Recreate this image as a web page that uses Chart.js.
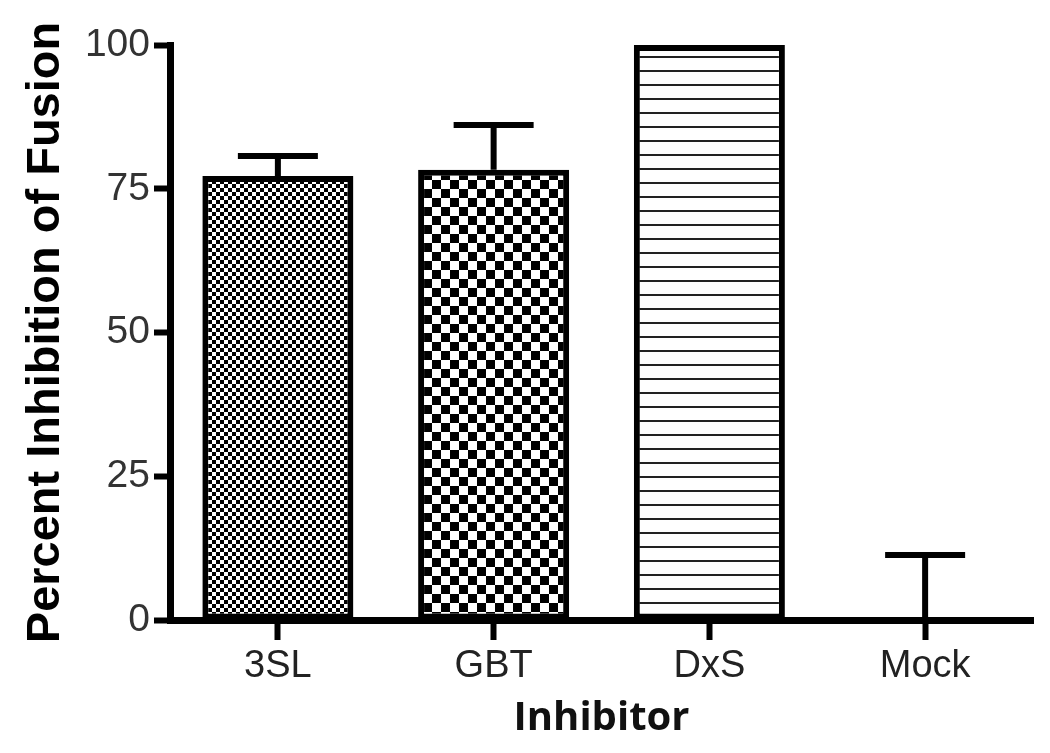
<!DOCTYPE html>
<html>
<head>
<meta charset="utf-8">
<script src="https://cdn.jsdelivr.net/npm/chart.js@4"></script>
<style>
  html, body { margin: 0; padding: 0; background: #fff; }
  #wrap { width: 1050px; height: 753px; }
</style>
</head>
<body>
<div id="wrap"><canvas id="chart" width="1050" height="753"></canvas></div>
<script>
// Percent inhibition of fusion by inhibitor
const categories = ['3SL', 'GBT', 'DxS', 'Mock'];
const means = [77.2, 78.3, 100, 0];
const errors = [3.5, 7.8, 0, 11.3];
const yTicks = [0, 25, 50, 75, 100];

// fill patterns
function checker(size) {
  const c = document.createElement('canvas');
  c.width = size * 2; c.height = size * 2;
  const g = c.getContext('2d');
  g.fillStyle = '#fff';
  g.fillRect(0, 0, c.width, c.height);
  g.fillStyle = '#000';
  g.fillRect(0, 0, size, size);
  g.fillRect(size, size, size, size);
  return g.createPattern(c, 'repeat');
}
function hlines(gap, w) {
  const c = document.createElement('canvas');
  c.width = 4; c.height = gap;
  const g = c.getContext('2d');
  g.fillStyle = '#fff';
  g.fillRect(0, 0, c.width, c.height);
  g.fillStyle = '#222';
  g.fillRect(0, 0, c.width, w);
  return g.createPattern(c, 'repeat');
}
const fills = [checker(4), checker(9), hlines(14, 2), '#fff'];

// error bars (upper half only, like the original)
const errorBars = {
  id: 'errorBars',
  afterDatasetsDraw(chart) {
    const ctx = chart.ctx;
    const meta = chart.getDatasetMeta(0);
    const y = chart.scales.y;
    ctx.save();
    ctx.strokeStyle = '#000';
    ctx.lineWidth = 6;
    meta.data.forEach(function(bar, i) {
      if (!errors[i]) return;
      const y0 = y.getPixelForValue(means[i]);
      const y1 = y.getPixelForValue(means[i] + errors[i]);
      ctx.beginPath();
      ctx.moveTo(bar.x, y0);
      ctx.lineTo(bar.x, y1);
      ctx.moveTo(bar.x - 40, y1);
      ctx.lineTo(bar.x + 40, y1);
      ctx.stroke();
    });
    ctx.restore();
  }
};

new Chart(document.getElementById('chart'), {
  type: 'bar',
  data: {
    labels: categories,
    datasets: [{
      data: means,
      backgroundColor: fills,
      borderColor: '#000',
      borderWidth: 6,
      borderSkipped: false,
      barPercentage: 0.7,
      categoryPercentage: 1
    }]
  },
  options: {
    responsive: false,
    animation: false,
    layout: { padding: { left: 0, right: 17, top: 45, bottom: 0 } },
    plugins: { legend: { display: false }, tooltip: { enabled: false } },
    scales: {
      x: {
        offset: true,
        afterFit(scale) { scale.height = 133; },
        grid: { display: true, offset: false, drawOnChartArea: false, drawTicks: true, tickLength: 20, tickWidth: 6, tickColor: '#000' },
        border: { display: true, width: 7, color: '#000' },
        ticks: { padding: 4, color: '#222', font: { family: 'Liberation Sans, Arial, sans-serif', size: 38 } },
        title: { display: true, text: 'Inhibitor', color: '#111', padding: { top: 0, bottom: 10 },
                 font: { family: 'Open Sans, sans-serif', size: 40, weight: 'bold' } }
      },
      y: {
        min: 0,
        max: 100,
        afterFit(scale) { scale.width = 170; },
        afterBuildTicks(scale) { scale.ticks = yTicks.map(v => ({ value: v })); },
        grid: { display: true, drawOnChartArea: false, drawTicks: true, tickLength: 16, tickWidth: 6, tickColor: '#000' },
        border: { display: true, width: 7, color: '#000' },
        ticks: { padding: 4, color: '#333', font: { family: 'Liberation Sans, Arial, sans-serif', size: 39 } },
        title: { display: true, text: 'Percent Inhibition of Fusion', color: '#000', padding: { top: 18, bottom: 0 },
                 font: { family: 'Liberation Sans, Arial, sans-serif', size: 47, weight: 'bold' } }
      }
    }
  },
  plugins: [errorBars]
});
</script>
</body>
</html>
